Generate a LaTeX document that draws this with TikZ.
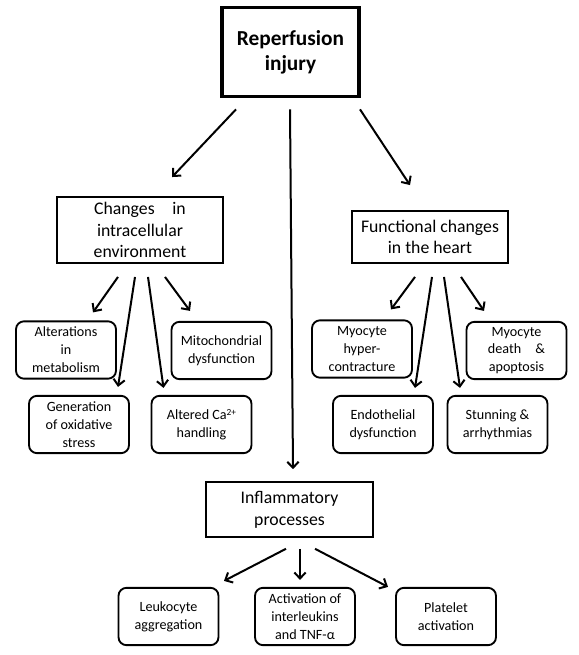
\documentclass[tikz,border=0pt]{standalone}
\usepackage{fontspec}
\setmainfont{Carlito}
\usetikzlibrary{arrows.meta}

\tikzset{
	topbox/.style={draw, line width=2.6pt, inner sep=0pt, minimum width=103pt, minimum height=67pt, align=center, font=\bfseries\fontsize{16}{19}\selectfont},
	midbox/.style={draw, line width=1.4pt, inner sep=0pt, align=center, font=\fontsize{13.3}{16.3}\selectfont},
	leafbox/.style={draw, line width=1.4pt, rounded corners=6pt, inner sep=0pt, minimum width=75pt, minimum height=43pt, align=center, font=\fontsize{10.6}{13.4}\selectfont},
	arr/.style={-{Straight Barb[length=4.5pt,width=8.5pt]}, line width=1.5pt}
}

\begin{document}
\begin{tikzpicture}[x=0.75pt,y=-0.75pt]
\useasboundingbox (0,0) rectangle (578,655);

\node [topbox] (top) at (290.5,52) {Reperfusion\\injury};

\node [midbox, minimum width=124.5pt, minimum height=49.5pt] (chg) at (140,230) {Changes\quad in\\intracellular\\environment};
\node [midbox, minimum width=117pt, minimum height=39pt] (fun) at (430,237) {Functional changes\\in the heart};
\node [midbox, minimum width=125pt, minimum height=41pt] (inf) at (289.5,509.5) {Inflammatory\\processes};

\node [leafbox] (alt) at (66,350) {Alterations\\in\\metabolism};
\node [leafbox] (mito) at (221.5,350.5) {Mitochondrial\\dysfunction};
\node [leafbox] (gen) at (79,424.5) {Generation\\of oxidative\\stress};
\node [leafbox] (ca) at (201.5,424.5) {Altered Ca\raisebox{0.55ex}{\fontsize{7}{8}\selectfont 2+}\\handling};

\node [leafbox] (hyp) at (362,349) {Myocyte\\hyper-\\contracture};
\node [leafbox] (dth) at (516.5,350.5) {Myocyte\\death\quad\&\\apoptosis};
\node [leafbox] (endo) at (383,424.5) {Endothelial\\dysfunction};
\node [leafbox] (stun) at (497.5,424.5) {Stunning \&\\arrhythmias};

\node [leafbox] (leu) at (168.5,616.5) {Leukocyte\\aggregation};
\node [leafbox] (act) at (305,616.5) {Activation of\\interleukins\\and TNF-α};
\node [leafbox] (plt) at (446,616.5) {Platelet\\activation};

\foreach \a/\ax/\ay/\b/\bx/\by in {
	top/-54.5/11/chg/32/-19, top/69.5/11/fun/-20/-25, top/-0.5/11/inf/3.5/-12,
	chg/-22/13/alt/27/-8, chg/-5/13/gen/39/-8, chg/8/13/ca/-38/-7, chg/25/13/mito/-31.5/-10,
	fun/-15/13/hyp/29/-10, fun/2/13/endo/32/-7, fun/14/13/stun/-37.5/-7, fun/31/13/dth/-32.5/-10,
	inf/-3.5/11/leu/55.5/-6, inf/10.5/11/act/-5/-7, inf/25.5/11/plt/-58/0} {
	\draw [arr] ([shift={(\ax,\ay)}]\a.south) -- ([shift={(\bx,\by)}]\b.north);
}

\end{tikzpicture}
\end{document}
